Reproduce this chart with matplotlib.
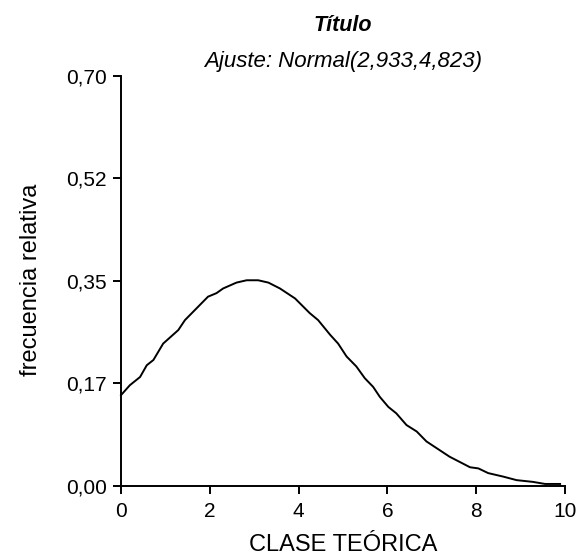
import numpy as np
import matplotlib
matplotlib.use("Agg")
import matplotlib.pyplot as plt

clase = [0.00, 0.20, 0.43, 0.58, 0.73, 0.95, 1.29, 1.44, 1.70, 1.96, 2.15, 2.30, 2.60, 2.83,
         3.09, 3.32, 3.58, 3.92, 4.25, 4.44, 4.71, 4.89, 5.08, 5.30, 5.49, 5.68, 5.83, 6.02,
         6.20, 6.43, 6.66, 6.88, 7.22, 7.40, 7.86, 8.05, 8.27, 8.61, 8.91, 9.28, 9.55, 9.89]
frec = [0.155, 0.172, 0.186, 0.206, 0.215, 0.243, 0.266, 0.283, 0.303, 0.323, 0.329, 0.337,
        0.347, 0.351, 0.351, 0.347, 0.337, 0.320, 0.295, 0.283, 0.258, 0.243, 0.221, 0.204,
        0.184, 0.169, 0.152, 0.135, 0.124, 0.104, 0.093, 0.076, 0.059, 0.050, 0.032, 0.030,
        0.022, 0.016, 0.010, 0.007, 0.0035, 0.0035]

yticks = [0.0, 0.175, 0.35, 0.525, 0.70]
ytick_labels = ["0,00", "0,17", "0,35", "0,52", "0,70"]
xticks = [0, 2, 4, 6, 8, 10]

plt.rcParams['font.family'] = ['Liberation Sans', 'DejaVu Sans']

fig = plt.figure(figsize=(5.77, 5.56), dpi=100)
ax = fig.add_axes([121/577, 1 - 486/556, (565 - 121)/577, (486 - 75.7)/556])

ax.plot(clase, frec, color="black", lw=1.4, clip_on=False)

ax.set_xlim(0, 10)
ax.set_ylim(0, 0.70)
ax.set_xticks(xticks)
ax.set_xticklabels([str(t) for t in xticks])
ax.set_yticks(yticks)
ax.set_yticklabels(ytick_labels)

for s in ["top", "right"]:
    ax.spines[s].set_visible(False)
for s in ["left", "bottom"]:
    ax.spines[s].set_linewidth(1.4)
ax.tick_params(axis="both", direction="out", length=5.8, width=1.4, labelsize=15)
ax.tick_params(axis="x", pad=5.5)
ax.tick_params(axis="y", pad=4.2)

fig.text(343/577, 1 - 31/556, "Título", ha="center", va="baseline",
         fontsize=15.5, fontweight="bold", fontstyle="italic")
fig.text(343/577, 1 - 67/556, "Ajuste: Normal(2,933,4,823)", ha="center", va="baseline",
         fontsize=16, fontstyle="italic")
fig.text(343/577, 1 - 551/556, "CLASE TEÓRICA", ha="center", va="baseline", fontsize=17)
fig.text(31/577, 1 - 280/556, "frecuencia relativa", ha="center", va="center",
         fontsize=17, rotation=90)

fig.savefig("out.png", dpi=100)
